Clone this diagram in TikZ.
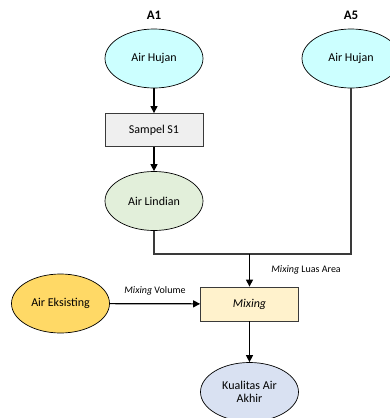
\documentclass[tikz,border=0pt]{standalone}
\usepackage{fontspec}
\setmainfont{Carlito}
\usepackage{tikz}
\usetikzlibrary{arrows.meta,shapes.geometric,positioning}

\definecolor{hujan}{HTML}{CCFFFF}
\definecolor{sampel}{HTML}{EFEFEF}
\definecolor{lindian}{HTML}{E2EFDA}
\definecolor{eksist}{HTML}{FFD966}
\definecolor{mixbox}{HTML}{FFF2CC}
\definecolor{akhir}{HTML}{D9E1F2}
\definecolor{garis}{HTML}{3A3A3A}

\tikzset{
  oval/.style={ellipse, draw=black, line width=0.7pt, minimum width=98pt, minimum height=59pt,
    inner sep=1pt, font=\fontsize{12}{13.5}\selectfont, text=black, align=center},
  kotak/.style={rectangle, draw=garis, line width=0.8pt, minimum width=98pt, minimum height=33pt,
    font=\fontsize{12}{13.5}\selectfont, text=black},
  panah/.style={-{Triangle[length=7pt,width=7pt]}, draw=black, line width=1.2pt},
  garisan/.style={draw=garis, line width=1.2pt},
  ket/.style={font=\fontsize{10}{12}\selectfont, text=black},
  judul/.style={font=\fontsize{13}{15}\selectfont\bfseries}
}

\begin{document}
\begin{tikzpicture}[x=1pt,y=-1pt]
	\useasboundingbox[fill=white] (0,0) rectangle (390,418);
	% Knoten
		\node (a1) at (154,15) [judul] {A1};
		\node (a5) at (351,15) [judul] {A5};
		\node (h1) at (154,58.5) [oval,fill=hujan] {Air Hujan};
		\node (h5) at (351,58.5) [oval,fill=hujan] {Air Hujan};
		\node (s1) at (154,130) [kotak,fill=sampel] {Sampel S1};
		\node (l1) at (154,201) [oval,fill=lindian] {Air Lindian};
		\node (mix) at (249.5,304) [kotak,fill=mixbox,minimum height=34pt] {\textit{Mixing}};
		\node (ex) at (60.5,303.5) [oval,fill=eksist] {Air Eksisting};
		\node (ka) at (249.5,392) [oval,fill=akhir] {Kualitas Air\\Akhir};
		\coordinate (j) at (249.5,254);
	% Kanten
		\draw[panah] (h1) -- (s1);
		\draw[panah] (s1) -- (l1);
		\draw[garisan] (l1.south) |- (j);
		\draw[garisan] (h5.south) |- (j);
		\draw[panah] (j) -- node[right,ket,xshift=18pt]{\textit{Mixing} Luas Area} (mix);
		\draw[panah] (ex) -- node[above,ket,yshift=5pt]{\textit{Mixing} Volume} (mix);
		\draw[panah] (mix) -- (ka);
\end{tikzpicture}
\end{document}
